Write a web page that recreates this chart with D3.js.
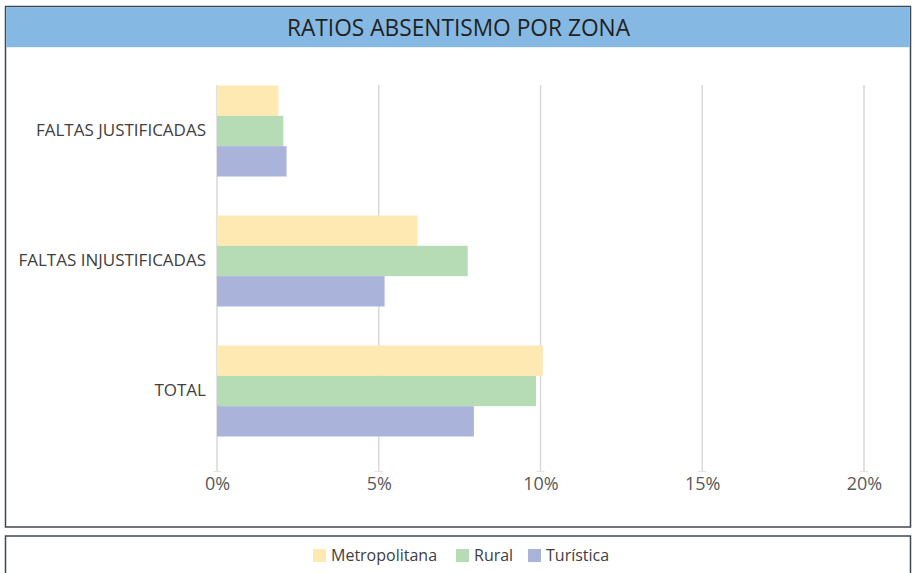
<!DOCTYPE html>
<html>
<head>
<meta charset="utf-8">
<script src="https://cdn.jsdelivr.net/npm/d3@7"></script>
<style>
  body { margin: 0; background: #fff; }
  svg { display: block; font-family: "Open Sans", sans-serif; }
</style>
</head>
<body>
<script>
// data
var categories = ["FALTAS JUSTIFICADAS", "FALTAS INJUSTIFICADAS", "TOTAL"];
var series = ["Metropolitana", "Rural", "Turística"];
var metropolitana = [0.019, 0.062, 0.1007];
var rural = [0.0205, 0.0775, 0.0986];
var turistica = [0.0215, 0.0518, 0.0794];
var ticks = [0, 0.05, 0.10, 0.15, 0.20];
var colors = ["#ffe9b3", "#b5dcb4", "#aab3d9"];

var values = [metropolitana, rural, turistica];

var width = 913, height = 573;
var svg = d3.select("body").append("svg")
    .attr("width", width)
    .attr("height", height);

// chart frame
svg.append("rect")
  .attr("x", 5.5).attr("y", 6.5)
  .attr("width", 905).attr("height", 520.5)
  .attr("fill", "#fff")
  .attr("stroke", "#3f4850")
  .attr("stroke-width", 1.5);

svg.append("rect")
  .attr("x", 6.2).attr("y", 7.2)
  .attr("width", 903.6).attr("height", 40)
  .attr("fill", "#85b9e3");

svg.append("text")
  .attr("x", 458.5).attr("y", 36.3)
  .attr("text-anchor", "middle")
  .attr("font-size", 24)
  .attr("fill", "#231f20")
  .attr("textLength", 343)
  .attr("lengthAdjust", "spacingAndGlyphs")
  .text("RATIOS ABSENTISMO POR ZONA");

// scales
var x = d3.scaleLinear().domain([0, 0.20]).range([217, 864]);

var y0 = d3.scaleBand()
    .domain(categories)
    .range([66, 456])
    .paddingInner(0.3)
    .paddingOuter(0.15);

var y1 = d3.scaleBand()
    .domain(series)
    .range([0, y0.bandwidth()]);

// gridlines
var grid = svg.append("g");
grid.selectAll("line.grid")
  .data(ticks)
  .enter()
  .append("line")
  .attr("class", "grid")
  .attr("x1", function(d){ return x(d); })
  .attr("x2", function(d){ return x(d); })
  .attr("y1", 85)
  .attr("y2", 471)
  .attr("stroke", "#d9d9d9")
  .attr("stroke-width", 1.5);

grid.selectAll("line.tick")
  .data(ticks)
  .enter()
  .append("line")
  .attr("class", "tick")
  .attr("x1", function(d){ return x(d) - 4; })
  .attr("x2", function(d){ return x(d) + 4; })
  .attr("y1", 471.5)
  .attr("y2", 471.5)
  .attr("stroke", "#e3e3e3")
  .attr("stroke-width", 1);

// x axis labels
var xAxis = d3.axisBottom(x)
    .tickValues(ticks)
    .tickSize(0)
    .tickPadding(0)
    .tickFormat(d3.format(".0%"));

var gx = svg.append("g")
  .attr("transform", "translate(0,477)")
  .call(xAxis);
gx.select(".domain").remove();
gx.selectAll("text")
  .attr("font-family", "Open Sans")
  .attr("font-size", 18)
  .attr("fill", "#595959")
  .attr("dy", "0.71em")
  .attr("y", 0);

// bars
var groups = svg.selectAll(".cat")
  .data(categories)
  .enter()
  .append("g")
  .attr("class", "cat")
  .attr("transform", function(d){ return "translate(0," + y0(d) + ")"; });

groups.selectAll("rect")
  .data(function(d, i){
    return series.map(function(s, j){ return {s: s, v: values[j][i], j: j}; });
  })
  .enter()
  .append("rect")
  .attr("x", x(0))
  .attr("y", function(d){ return y1(d.s); })
  .attr("width", function(d){ return x(d.v) - x(0); })
  .attr("height", y1.bandwidth())
  .attr("fill", function(d){ return colors[d.j]; });

// category labels
var yAxis = d3.axisLeft(y0).tickSize(0).tickPadding(11);
var gy = svg.append("g")
  .attr("transform", "translate(" + x(0) + ",0)")
  .call(yAxis);
gy.select(".domain").remove();
gy.selectAll("text")
  .attr("font-family", "Open Sans")
  .attr("font-size", 17)
  .attr("fill", "#404040");

// legend frame
svg.append("rect")
  .attr("x", 5.5).attr("y", 536)
  .attr("width", 905).attr("height", 60)
  .attr("fill", "#fff")
  .attr("stroke", "#3f4850")
  .attr("stroke-width", 1.5);

var legendX = [313, 456, 528];
var legend = svg.selectAll(".legend")
  .data(series)
  .enter()
  .append("g")
  .attr("class", "legend")
  .attr("transform", function(d, i){ return "translate(" + legendX[i] + ",549)"; });

legend.append("rect")
  .attr("width", 13)
  .attr("height", 13)
  .attr("fill", function(d, i){ return colors[i]; });

legend.append("text")
  .attr("x", 18)
  .attr("y", 12)
  .attr("font-size", 16)
  .attr("fill", "#404040")
  .text(function(d){ return d; });
</script>
</body>
</html>
